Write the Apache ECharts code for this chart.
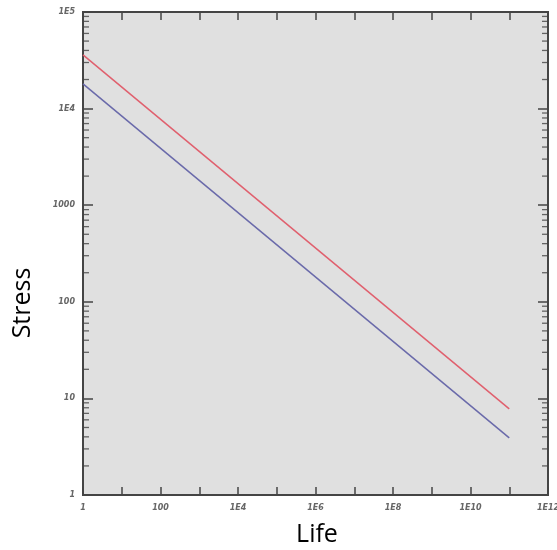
<!DOCTYPE html>
<html><head><meta charset="utf-8">
<script src="https://cdn.jsdelivr.net/npm/echarts@6/dist/echarts.min.js"></script>
<style>html,body{margin:0;padding:0;background:#fff}#c{width:557px;height:550px}</style>
</head><body><div id="c"></div>
<script>
// Data (straight lines in log-log space: endpoints)
const life = [1, 1e11];
const redStress = [36000, 7.8];
const blueStress = [18000, 3.9];
const xTickLabels = ['1', '100', '1E4', '1E6', '1E8', '1E10', '1E12'];
const yTickLabels = ['1', '10', '100', '1000', '1E4', '1E5'];
const xTitle = 'Life';
const yTitle = 'Stress';

const xMin = 1, xMax = 1e12, yMin = 1, yMax = 1e5;

function expOf(v){ return Math.round(Math.log10(v)); }
function xLabel(v){ const e = expOf(v); return e % 2 === 0 ? xTickLabels[e/2] : ''; }
function yLabel(v){ const e = expOf(v); return yTickLabels[e] || ''; }

// minor tick positions (2..9 per decade) on the stress axis
const minorY = [];
for (let k = 0; k < 5; k++) for (let m = 2; m <= 9; m++) minorY.push(m * Math.pow(10, k));

const labelStyle = {fontFamily: 'DejaVu Sans', fontStyle: 'italic', fontWeight: 'bold', fontSize: 8, color: '#666'};
const axisLine = {show: true, lineStyle: {color: '#444', width: 1.8}};
const titleStyle = {fontFamily: 'Open Sans', fontSize: 25, fill: '#000'};

const chart = echarts.init(document.getElementById('c'));
chart.setOption({
  animation: false,
  grid: {left: 83, right: 9, top: 12, bottom: 55, outerBoundsMode: 'none', containLabel: false,
         show: true, backgroundColor: '#e0e0e0', borderColor: '#444', borderWidth: 1.8},
  graphic: [
    {type: 'text', x: 23, y: 303, rotation: Math.PI / 2,
     style: Object.assign({text: yTitle, align: 'center', verticalAlign: 'middle'}, titleStyle)},
    {type: 'text', x: 317, y: 535,
     style: Object.assign({text: xTitle, align: 'center', verticalAlign: 'middle'}, titleStyle)}
  ],
  xAxis: [
    {type: 'log', logBase: 10, min: xMin, max: xMax, interval: 1, position: 'bottom',
     axisLine: axisLine, axisTick: {inside: true, length: 8, lineStyle: {color: '#444', width: 1.5}},
     axisLabel: Object.assign({formatter: xLabel, margin: 9, showMaxLabel: true, showMinLabel: true, hideOverlap: false}, labelStyle),
     splitLine: {show: false}},
    {type: 'log', logBase: 10, min: xMin, max: xMax, interval: 1, position: 'top',
     axisLine: axisLine, axisTick: {inside: true, length: 8, lineStyle: {color: '#444', width: 1.5}},
     axisLabel: {show: false}, splitLine: {show: false}}
  ],
  yAxis: [
    {type: 'log', logBase: 10, min: yMin, max: yMax, interval: 1, position: 'left',
     axisLine: axisLine, axisTick: {inside: true, length: 10, lineStyle: {color: '#444', width: 1.5}},
     axisLabel: Object.assign({formatter: yLabel, margin: 8}, labelStyle),
     splitLine: {show: false}},
    {type: 'log', logBase: 10, min: yMin, max: yMax, interval: 1, position: 'right',
     axisLine: axisLine, axisTick: {inside: true, length: 10, lineStyle: {color: '#444', width: 1.5}},
     axisLabel: {show: false}, splitLine: {show: false}}
  ],
  series: [
    {type: 'line', data: life.map((x, i) => [x, redStress[i]]), symbol: 'none',
     lineStyle: {color: '#e0606e', width: 1.5}, silent: true},
    {type: 'line', data: life.map((x, i) => [x, blueStress[i]]), symbol: 'none',
     lineStyle: {color: '#6a6aaa', width: 1.5}, silent: true},
    {type: 'scatter', data: minorY.map(v => [xMin, v]), symbol: 'rect', symbolSize: [6, 1.3],
     symbolOffset: [3, 0], itemStyle: {color: '#444'}, silent: true, clip: false},
    {type: 'scatter', data: minorY.map(v => [xMax, v]), symbol: 'rect', symbolSize: [6, 1.3],
     symbolOffset: [-3, 0], itemStyle: {color: '#444'}, silent: true, clip: false}
  ]
});
</script></body></html>
